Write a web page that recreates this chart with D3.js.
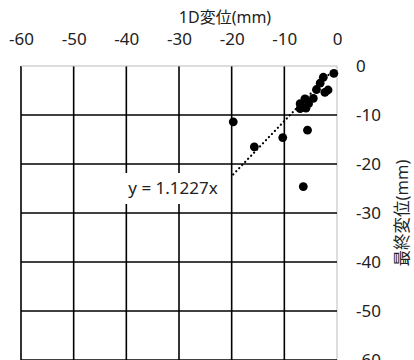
<!DOCTYPE html>
<html>
<head>
<meta charset="utf-8">
<script src="https://cdn.jsdelivr.net/npm/d3@7"></script>
<style>
  html, body { margin: 0; padding: 0; background: #fff; }
  svg { display: block; }
  text { font-family: "Noto Sans", "Noto Sans CJK JP", sans-serif; fill: #222; }
</style>
</head>
<body>
<svg id="chart" width="414" height="360"></svg>
<script>
// 1D displacement (x) vs final displacement (y), both in mm
const disp1D = [-19.7, -15.7, -10.3, -5.6, -6.4,
                -0.6, -2.6, -3.2, -1.7, -2.3, -3.9, -4.5, -6.1, -7.0, -5.4, -7.0, -5.9];
const dispFinal = [-11.4, -16.5, -14.6, -13.1, -24.6,
                   -1.5, -2.3, -3.5, -4.9, -5.4, -4.8, -6.6, -6.7, -7.7, -7.7, -8.7, -8.6];
const xTicks = [-60, -50, -40, -30, -20, -10, 0];
const yTicks = [0, -10, -20, -30, -40, -50, -60];
const slope = 1.1227;
const xTitle = "1D変位(mm)";
const yTitle = "最終変位(mm)";
const fitLabel = "y = 1.1227x";

const svg = d3.select("#chart");
const x = d3.scaleLinear().domain([-60, 0]).range([21, 337]);
const y = d3.scaleLinear().domain([0, -60]).range([66, 360]);
const plain = d => String(d);

// grid
const grid = svg.append("g");
grid.selectAll("line.v").data(xTicks).join("line")
  .attr("x1", d => x(d)).attr("x2", d => x(d))
  .attr("y1", y(0)).attr("y2", y(-60))
  .attr("stroke", d => d === 0 ? "#bbb" : "#000")
  .attr("stroke-width", d => d === 0 ? 1 : 1.6);
grid.selectAll("line.h").data(yTicks).join("line")
  .attr("x1", x(-60)).attr("x2", x(0))
  .attr("y1", d => y(d)).attr("y2", d => y(d))
  .attr("stroke", d => d === 0 ? "#bbb" : "#000")
  .attr("stroke-width", d => d === 0 ? 1 : 1.6);

// top axis labels
const xAxis = d3.axisTop(x).tickValues(xTicks).tickFormat(plain).tickSize(0).tickPadding(0);
const gx = svg.append("g").attr("transform", "translate(0,45)").call(xAxis);
gx.select(".domain").remove();
gx.selectAll("text").attr("font-size", 17).attr("fill", "#222")
  .attr("font-family", "Noto Sans, sans-serif");

// right axis labels
const yAxis = d3.axisRight(y).tickValues(yTicks).tickFormat(plain).tickSize(0).tickPadding(0);
const gy = svg.append("g").attr("transform", "translate(356,0)").call(yAxis);
gy.select(".domain").remove();
gy.selectAll("text").attr("font-size", 17).attr("fill", "#222")
  .attr("font-family", "Noto Sans, sans-serif");

// axis titles
svg.append("text").attr("x", 225).attr("y", 23).attr("text-anchor", "middle")
  .attr("font-size", 16).attr("font-family", "Noto Sans CJK JP, sans-serif")
  .attr("fill", "#333")
  .text(xTitle);
svg.append("text")
  .attr("transform", "translate(408,213) rotate(-90)")
  .attr("text-anchor", "middle")
  .attr("font-size", 16.5).attr("font-family", "Noto Sans CJK JP, sans-serif")
  .attr("fill", "#555")
  .text(yTitle);

// linear fit through origin, over the data range
const xMin = d3.min(disp1D), xMax = d3.max(disp1D);
svg.append("line")
  .attr("x1", x(xMin)).attr("y1", y(slope * xMin))
  .attr("x2", x(xMax)).attr("y2", y(slope * xMax))
  .attr("stroke", "#000").attr("stroke-width", 2.2)
  .attr("stroke-dasharray", "0.1,4.2").attr("stroke-linecap", "round");

// points
svg.append("g").selectAll("circle").data(disp1D).join("circle")
  .attr("cx", d => x(d))
  .attr("cy", (d, i) => y(dispFinal[i]))
  .attr("r", 4.4).attr("fill", "#000");

// fit equation label on a white box
svg.append("rect").attr("x", 119).attr("y", 173).attr("width", 108).attr("height", 31)
  .attr("fill", "#fff");
svg.append("text").attr("x", 173).attr("y", 194).attr("text-anchor", "middle")
  .attr("font-size", 17).text(fitLabel);
</script>
</body>
</html>
